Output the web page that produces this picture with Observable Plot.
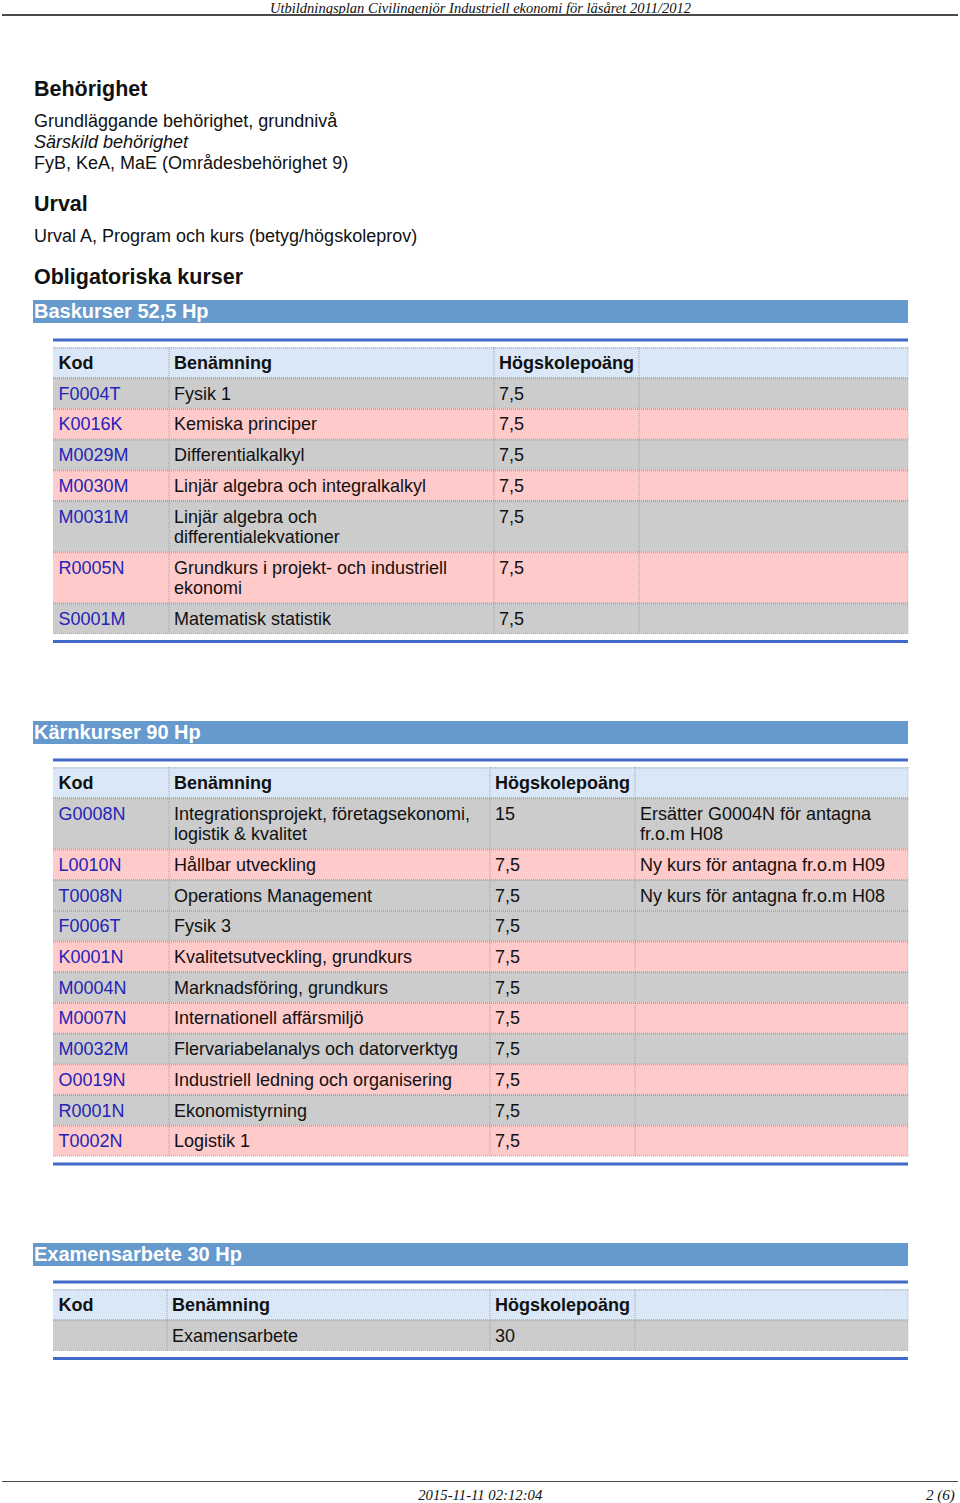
<!DOCTYPE html>
<html><head><meta charset="utf-8">
<script src="https://cdn.jsdelivr.net/npm/d3@7"></script>
<script src="https://cdn.jsdelivr.net/npm/@observablehq/plot@0.6"></script>
<style>
body{margin:0;background:#fff;}
#page{position:relative;width:960px;height:1503px;overflow:hidden;font-family:"Liberation Sans",Arial,sans-serif;color:#111;}
.abs{position:absolute;white-space:nowrap;}
.h{font-weight:bold;font-size:21.5px;line-height:25px;left:34px;}
.p{font-size:18px;line-height:21px;left:34px;}
.bar{left:33px;width:874px;height:23px;background:#6699cc;color:#fff;font-weight:bold;font-size:20px;line-height:23px;padding-left:1px;}
.serif{font-family:"Liberation Serif","Times New Roman",serif;font-style:italic;font-size:15px;line-height:15px;}
.rule{left:2px;width:956px;background:#4a4a4a;}
.tbl{position:absolute;left:53px;}
.tbl svg{display:block;}
</style></head>
<body>
<div id="page">
  <div class="abs serif fit" id="runhead" data-w="421" data-cx="480" style="top:0.5px;">Utbildningsplan Civilingenjör Industriell ekonomi för läsåret 2011/2012</div>
  <div class="abs rule" style="top:14px;height:2px;"></div>

  <div class="abs h" style="top:76.8px;">Behörighet</div>
  <div class="abs p" style="top:111.3px;">Grundläggande behörighet, grundnivå<br><i>Särskild behörighet</i><br>FyB, KeA, MaE (Områdesbehörighet 9)</div>
  <div class="abs h" style="top:191.7px;">Urval</div>
  <div class="abs p" style="top:226.3px;">Urval A, Program och kurs (betyg/högskoleprov)</div>
  <div class="abs h" style="top:264.7px;">Obligatoriska kurser</div>

  <div class="abs bar" style="top:300px;">Baskurser 52,5 Hp</div>
  <div class="tbl" id="t1" style="top:337.5px;"></div>

  <div class="abs bar" style="top:721px;">Kärnkurser 90 Hp</div>
  <div class="tbl" id="t2" style="top:757.5px;"></div>

  <div class="abs bar" style="top:1243px;">Examensarbete 30 Hp</div>
  <div class="tbl" id="t3" style="top:1279.5px;"></div>

  <div class="abs rule" style="top:1480.5px;height:1.5px;"></div>
  <div class="abs serif fit" data-w="124" data-cx="480" style="top:1488px;">2015-11-11 02:12:04</div>
  <div class="abs serif fit" data-w="29" data-cx="940.5" style="top:1488px;">2 (6)</div>
</div>
<script>
// ---- data ----
const kolumnrubriker = ["Kod", "Benämning", "Högskolepoäng", ""];

const baskurserKod = ["F0004T", "K0016K", "M0029M", "M0030M", "M0031M", "R0005N", "S0001M"];
const baskurserNamn = ["Fysik 1", "Kemiska principer", "Differentialkalkyl", "Linjär algebra och integralkalkyl",
  "Linjär algebra och\ndifferentialekvationer", "Grundkurs i projekt- och industriell\nekonomi", "Matematisk statistik"];
const baskurserHp = ["7,5", "7,5", "7,5", "7,5", "7,5", "7,5", "7,5"];
const baskurserNot = ["", "", "", "", "", "", ""];
const baskurserTon = ["grå", "rosa", "grå", "rosa", "grå", "rosa", "grå"];

const karnkurserKod = ["G0008N", "L0010N", "T0008N", "F0006T", "K0001N", "M0004N", "M0007N", "M0032M", "O0019N", "R0001N", "T0002N"];
const karnkurserNamn = ["Integrationsprojekt, företagsekonomi,\nlogistik & kvalitet", "Hållbar utveckling", "Operations Management",
  "Fysik 3", "Kvalitetsutveckling, grundkurs", "Marknadsföring, grundkurs", "Internationell affärsmiljö",
  "Flervariabelanalys och datorverktyg", "Industriell ledning och organisering", "Ekonomistyrning", "Logistik 1"];
const karnkurserHp = ["15", "7,5", "7,5", "7,5", "7,5", "7,5", "7,5", "7,5", "7,5", "7,5", "7,5"];
const karnkurserNot = ["Ersätter G0004N för antagna\nfr.o.m H08", "Ny kurs för antagna fr.o.m H09", "Ny kurs för antagna fr.o.m H08",
  "", "", "", "", "", "", "", ""];
const karnkurserTon = ["grå", "rosa", "grå", "grå", "rosa", "grå", "rosa", "grå", "rosa", "grå", "rosa"];

const examenKod = [""];
const examenNamn = ["Examensarbete"];
const examenHp = ["30"];
const examenNot = [""];
const examenTon = ["grå"];

// ---- layout ----
const W = 855, TOP = 9, LINE = 20.5, PAD = 10.2, FS = 18;
const fills = {header: "#d9e7f7", "grå": "#cccccc", "rosa": "#ffcaca"};
const FONT = '"Liberation Sans", Arial, sans-serif';

function drawTable(kod, namn, hp, not, ton, edges) {
  const rows = [{cells: kolumnrubriker, kind: "header"}]
    .concat(kod.map((k, i) => ({cells: [k, namn[i], hp[i], not[i]], kind: ton[i]})));
  let y = TOP;
  for (const r of rows) {
    r.lines = d3.max(r.cells, c => c.split("\n").length);
    r.y1 = y; r.y2 = y + PAD + LINE * r.lines; y = r.y2;
  }
  const last = y, bottom = last + 7.5;
  const cells = rows.flatMap((r, ri) => r.cells.map((t, ci) => ({
    text: t, x: edges[ci] + (ci === 0 ? 5 : 5.5), y: r.y1 + 7, col: ci, header: ri === 0
  })));
  const txt = (filter, opts) => Plot.text(cells.filter(filter), {
    x: "x", y: "y", text: "text", textAnchor: "start", lineAnchor: "top",
    lineHeight: LINE / FS, fontSize: FS, fontFamily: FONT, ...opts
  });
  return Plot.plot({
    width: W, height: bottom + 3, margin: 0,
    x: {type: "identity", axis: null}, y: {type: "identity", axis: null}, color: {type: "identity"},
    style: {fontFamily: FONT, fontSize: "18px", background: "transparent", overflow: "visible"},
    marks: [
      Plot.rect(rows, {x1: 0, x2: W, y1: "y1", y2: "y2", fill: d => fills[d.kind]}),
      Plot.ruleY(rows.flatMap(r => [r.y1 + 0.5, r.y2 - 0.5]), {stroke: "#a3a3a3", strokeDasharray: "1,1", strokeWidth: 1}),
      Plot.ruleX(edges.slice(1, -1), {x: d => d + 0.5, y1: TOP, y2: last, stroke: "#a3a3a3", strokeDasharray: "1,1"}),
      Plot.ruleX([W - 0.5], {y1: TOP, y2: last, stroke: "#b8b8b8", strokeDasharray: "1,1"}),
      Plot.ruleY([1.5, bottom], {stroke: "#4169c8", strokeWidth: 3}),
      txt(d => d.header, {fontWeight: "bold", fill: "#111"}),
      txt(d => !d.header && d.col === 0, {fill: "#2424b8"}),
      txt(d => !d.header && d.col > 0, {fill: "#111"})
    ]
  });
}

document.getElementById("t1").append(drawTable(baskurserKod, baskurserNamn, baskurserHp, baskurserNot, baskurserTon, [0, 115, 440, 585, 855]));
document.getElementById("t2").append(drawTable(karnkurserKod, karnkurserNamn, karnkurserHp, karnkurserNot, karnkurserTon, [0, 115, 436, 581, 855]));
document.getElementById("t3").append(drawTable(examenKod, examenNamn, examenHp, examenNot, examenTon, [0, 113, 436, 581, 855]));

// fit condensed serif running texts to their measured widths
for (const el of document.querySelectorAll(".fit")) {
  const w = el.getBoundingClientRect().width;
  const target = +el.dataset.w, cx = +el.dataset.cx;
  const s = target / w;
  el.style.left = (cx - w / 2) + "px";
  el.style.transformOrigin = "50% 50%";
  el.style.transform = `scale(${s}, 1)`;
}
</script>
</body></html>
